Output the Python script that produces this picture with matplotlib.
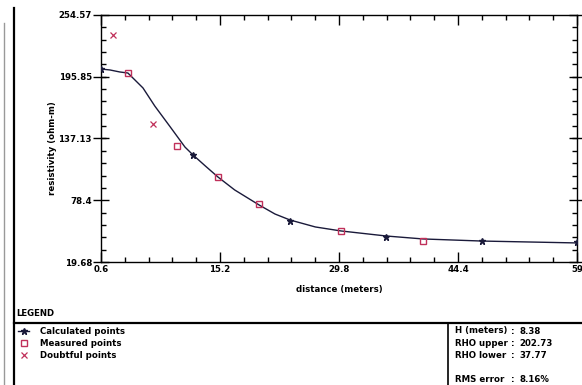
import matplotlib
matplotlib.use("Agg")
import matplotlib.pyplot as plt
from matplotlib.lines import Line2D
from matplotlib.ticker import FixedLocator, AutoMinorLocator

# model curve
curve_x = [0.6, 1.7, 2.9, 3.9, 5.75, 7.2, 9.1, 10.9, 11.9, 13.4, 14.95, 17.0, 20.0,
           21.95, 23.8, 26.9, 30.05, 35.6, 40.1, 47.35, 59.0]
curve_y = [203.2, 202.3, 200.4, 199.4, 185.2, 168.0, 148.1, 129.0, 121.4, 111.0, 100.5,
           88.2, 73.9, 65.3, 59.6, 53.0, 49.2, 44.4, 41.6, 39.6, 37.8]

calc_x = [0.6, 11.9, 23.8, 35.6, 47.35, 59.0]
calc_y = [203.2, 121.4, 58.7, 43.5, 39.6, 38.7]

meas_x = [3.9, 9.9, 14.95, 20.0, 30.05, 40.1]
meas_y = [199.4, 130.0, 100.5, 74.8, 49.2, 39.6]

doubt_x = [2.07, 6.98]
doubt_y = [235.6, 150.9]

xticks = [0.6, 15.2, 29.8, 44.4, 59.0]
xticklabels = ["0.6", "15.2", "29.8", "44.4", "59"]
yticks = [19.68, 78.41, 137.13, 195.85, 254.57]
yticklabels = ["19.68", "78.4", "137.13", "195.85", "254.57"]

info_keys = ["H (meters)", "RHO upper", "RHO lower", "RMS error"]
info_vals = ["8.38", "202.73", "37.77", "8.16%"]

W, H = 582, 385
fig = plt.figure(figsize=(W / 100, H / 100), dpi=100, facecolor="w")
fs = 6.2
ink = "#1a1a3a"
red = "#c0305a"


def fx(px):
    return px / W


def fy(py):
    return 1 - py / H


ax = fig.add_axes([fx(101), fy(262), (577 - 101) / W, (262 - 15) / H])
ax.plot(curve_x, curve_y, color=ink, lw=1.0, zorder=2)
calc, = ax.plot(calc_x, calc_y, ls="none", marker="*", ms=5, color=ink, zorder=3)
meas, = ax.plot(meas_x, meas_y, ls="none", marker="s", ms=4, mfc="none", mec=red, mew=1.0, zorder=3)
doubt, = ax.plot(doubt_x, doubt_y, ls="none", marker="x", ms=4, color=red, mew=0.9, zorder=3)

ax.set_xlim(0.6, 59.0)
ax.set_ylim(19.68, 254.57)
ax.xaxis.set_major_locator(FixedLocator(xticks))
ax.set_xticklabels(xticklabels, fontsize=fs, fontweight="bold")
ax.yaxis.set_major_locator(FixedLocator(yticks))
ax.set_yticklabels(yticklabels, fontsize=fs, fontweight="bold")
ax.xaxis.set_minor_locator(AutoMinorLocator(5))
ax.yaxis.set_minor_locator(AutoMinorLocator(5))
ax.tick_params(which="major", direction="in", length=7, width=1.0,
               top=True, right=True, pad=2)
ax.tick_params(which="minor", direction="in", length=3.5, width=1.0, top=True, right=True)
ax.tick_params(axis="y", which="major", direction="inout", length=11, pad=1)
for s in ax.spines.values():
    s.set_linewidth(1.0)
ax.set_xlabel("distance (meters)", fontsize=fs, fontweight="bold", labelpad=8)
ax.set_ylabel("resistivity (ohm-m)", fontsize=fs, fontweight="bold")
ax.yaxis.set_label_coords(-0.092, 0.46)

# frame lines around the panel
fig.add_artist(Line2D([fx(14), fx(14)], [fy(8), 0], color="k", lw=1.6))
fig.add_artist(Line2D([fx(4), fx(4)], [fy(23), 0], color="#999999", lw=1.0))
fig.add_artist(Line2D([fx(14), 1], [fy(323), fy(323)], color="k", lw=1.6))
fig.add_artist(Line2D([fx(448), fx(448)], [fy(323), 0], color="k", lw=1.2))

fig.text(fx(16), fy(314), "LEGEND", fontsize=fs, fontweight="bold", va="center")

labels = ["Calculated points", "Measured points", "Doubtful points"]
rows = [331, 343, 355]
handles = [Line2D([], [], color=ink, lw=1.0, marker="*", ms=5),
           Line2D([], [], ls="none", marker="s", ms=4, mfc="none", mec=red, mew=1.0),
           Line2D([], [], ls="none", marker="x", ms=4, color=red, mew=0.9)]
for h, lab, r in zip(handles, labels, rows):
    if h.get_linestyle() != "None":
        fig.add_artist(Line2D([fx(18), fx(29)], [fy(r), fy(r)], color=ink, lw=1.0))
    fig.add_artist(Line2D([fx(23.5)], [fy(r)], ls="none", marker=h.get_marker(),
                          ms=h.get_markersize(), mfc=h.get_markerfacecolor(),
                          mec=h.get_markeredgecolor(), mew=h.get_markeredgewidth()))
    fig.text(fx(40), fy(r), lab, fontsize=fs, fontweight="bold", va="center")

info_rows = [331, 343, 355, 380]
for k, v, r in zip(info_keys, info_vals, info_rows):
    fig.text(fx(455), fy(r), k, fontsize=fs, fontweight="bold", va="center")
    fig.text(fx(511), fy(r), ":", fontsize=fs, fontweight="bold", va="center")
    fig.text(fx(519), fy(r), v, fontsize=fs, fontweight="bold", va="center")

fig.savefig("out.png", dpi=100)
